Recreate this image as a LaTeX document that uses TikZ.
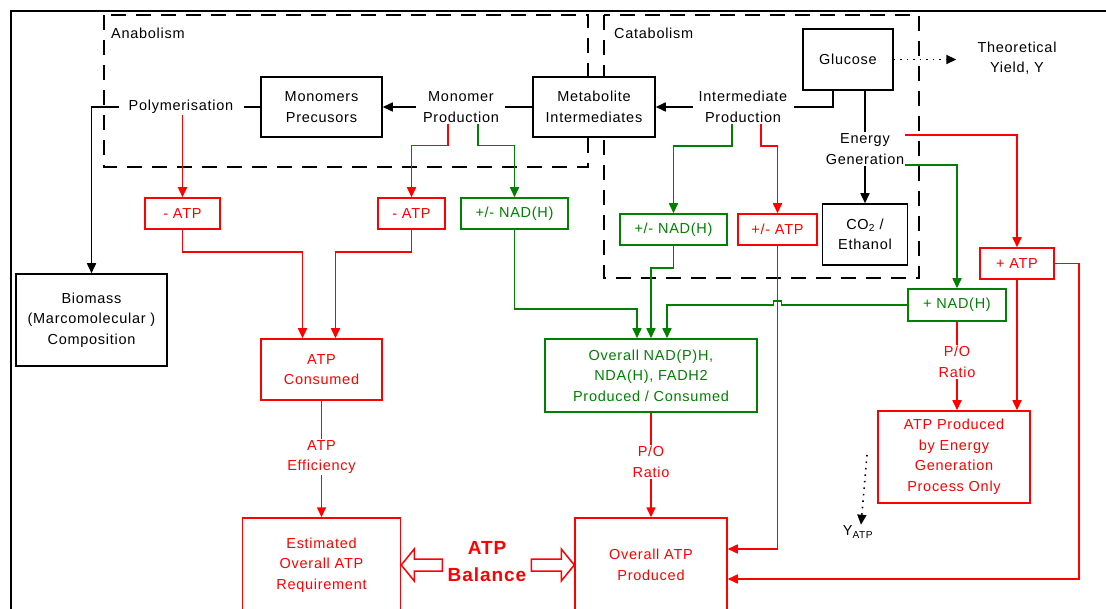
\documentclass[tikz,border=0pt]{standalone}
\usepackage{fontspec}
\setmainfont{Liberation Sans}[LetterSpace=5]
\usetikzlibrary{arrows.meta,calc}
\definecolor{cred}{RGB}{255,0,0}
\definecolor{cgreen}{RGB}{0,128,0}
\begin{document}
\begin{tikzpicture}[x=1pt,y=-1pt,
  every node/.style={font=\fontsize{14.5}{20.5}\selectfont, inner sep=1pt, align=center},
  bx/.style={draw, fill=white, line width=1.5pt, inner sep=0pt},
  blkbox/.style={bx, draw=black, text=black},
  redbox/.style={bx, draw=cred, text=cred},
  grnbox/.style={bx, draw=cgreen, text=cgreen},
  redtxt/.style={text=cred},
  ln/.style={line width=1.6pt},
  tip/.style={-{Triangle[length=10pt,width=9pt]}},
  blk/.style={ln, black},
  rd/.style={ln, cred},
  gr/.style={ln, cgreen},
  dots/.style={dash pattern=on 1.5pt off 5pt},
  region/.style={draw=black, line width=1.5pt, dash pattern=on 15pt off 10pt},
  hollow/.style={draw=cred, fill=white, line width=1.5pt, line join=miter}
]
\useasboundingbox (0,0) rectangle (1106,609);
\clip (0,0) rectangle (1106,609);
% frame
\draw[line width=2.2pt] (1106,11) -- (11,11) -- (11,612);
% regions
\draw[region] (104,15) rectangle (588,167);
\draw[region] (604,15) rectangle (919,278);
\node[anchor=west] (anab) at (110,33) {Anabolism};
\node[anchor=west] (catab) at (613,33) {Catabolism};

% black nodes
\node[blkbox, minimum width=90, minimum height=61] (glu) at (848,59.5) {Glucose};
\node (theo) at (1017,58) {Theoretical\\Yield, Y};
\node[blkbox, minimum width=122, minimum height=60] (meta) at (594,107) {Metabolite\\Intermediates};
\node[blkbox, minimum width=121, minimum height=60] (mono) at (321.5,107) {Monomers\\Precusors};
\node (poly) at (181,107) {Polymerisation};
\node (mp) at (461,107) {Monomer\\Production};
\node (ip) at (743,107) {Intermediate\\Production};
\node (eg) at (865,149) {Energy\\Generation};
\node[blkbox, minimum width=85, minimum height=61] (co2) at (865,234.5) {CO\textsubscript{2} /\\Ethanol};
\node[blkbox, minimum width=151, minimum height=92] (bio) at (91.5,320) {Biomass\\(Marcomolecular )\\Composition};

% red / green small boxes
\node[redbox, minimum width=75, minimum height=31] (atp1) at (182.5,213.5) {- ATP};
\node[redbox, minimum width=67, minimum height=31] (atp2) at (411.5,213.5) {- ATP};
\node[grnbox, minimum width=107, minimum height=31] (nad1) at (514.5,213.5) {+/- NAD(H)};
\node[grnbox, minimum width=107, minimum height=31] (nad2) at (673.5,229.5) {+/- NAD(H)};
\node[redbox, minimum width=79, minimum height=31] (pmatp) at (777.5,229.5) {+/- ATP};
\node[redbox, minimum width=74, minimum height=31] (patp) at (1017,263.5) {+ ATP};
\node[grnbox, minimum width=98, minimum height=32] (pnad) at (957,305) {+ NAD(H)};

% large boxes
\node[redbox, minimum width=121, minimum height=61] (cons) at (321.5,369.5) {ATP\\Consumed};
\node[grnbox, minimum width=212, minimum height=73] (onad) at (651,375.5) {Overall NAD(P)H,\\NDA(H), FADH2\\Produced / Consumed};
\node[redbox, minimum width=152, minimum height=92] (aeg) at (954,457) {ATP Produced\\by Energy\\Generation\\Process Only};
\node[redbox, minimum width=158, minimum height=94] (est) at (321.5,565) {Estimated\\Overall ATP\\Requirement};
\node[redbox, minimum width=152, minimum height=94] (oap) at (651,565) {Overall ATP\\Produced};

% labels
\node[redtxt] (eff) at (321.5,457) {ATP\\Efficiency};
\node[redtxt] (po1) at (651,462) {P/O\\Ratio};
\node[redtxt] (po2) at (957,362) {P/O\\Ratio};
\node[redtxt, font=\fontsize{19}{27}\selectfont\bfseries] (bal) at (487,562) {ATP\\Balance};
\node (yatp) at (858,532) {Y\textsubscript{ATP}};
\coordinate (ys) at (867,455);

% black connectors
\draw[blk, tip] ([xshift=-9pt]poly.west) -| (bio.north);
\draw[blk] ([xshift=10pt]poly.east) -- (mono.west);
\draw[blk, tip] ([xshift=-6pt]mp.west) -- (mono.east);
\draw[blk] ([xshift=5pt]mp.east) -- (meta.west);
\draw[blk, tip] ([xshift=-5pt]ip.west) -- (meta.east);
\draw[blk] ([xshift=6pt]ip.east) -| ([xshift=-15pt]glu.south);
\draw[blk] (glu.south -| eg.north) -- (eg.north);
\draw[blk, tip] (eg.south) -- (co2.north);
\draw[blk, tip, dots, shorten >=20pt] (glu.east) -- (glu.east -| theo.west);
\draw[blk, tip, dots] (ys) -- ([xshift=3pt]yatp.north);

% red connectors
\draw[rd, tip] (poly.south -| atp1.north) -- (atp1.north);
\draw[rd, tip] ([xshift=-13pt]mp.south) -- ++(0,22) -| (atp2.north);
\draw[rd, tip] (atp1.south) -- ++(0,22) -| ([xshift=-19pt]cons.north);
\draw[rd, tip] (atp2.south) -- ++(0,22) -| ([xshift=14pt]cons.north);
\draw[rd] (cons.south) -- (eff.north);
\draw[rd, tip] (eff.south) -- (est.north);
\draw[rd, tip] ([xshift=18pt]ip.south) -- ++(0,22) -| (pmatp.north);
\draw[rd, tip] (pmatp.south) |- ([yshift=16pt]oap.east);
\draw[rd, tip] ([yshift=14pt]eg.east) -| (patp.north);
\draw[rd] (pnad.south) -- (po2.north);
\draw[rd, tip] (po2.south) -- (po2.south |- aeg.north);
\draw[rd, tip] (patp.south) -- (patp.south |- aeg.north);
\draw[rd, tip] (patp.east) -- ++(24,0) |- ([yshift=-14pt]oap.east);
\draw[rd] (onad.south) -- (po1.north);
\draw[rd, tip] (po1.south) -- (oap.north);

% green connectors
\draw[gr, tip] ([yshift=-16pt]eg.east) -| (pnad.north);
\draw[gr, tip] ([xshift=17pt]mp.south) -- ++(0,22) -| (nad1.north);
\draw[gr, tip] (nad1.south) -- ++(0,79) -| ([xshift=-14pt]onad.north);
\draw[gr, tip] ([xshift=-11pt]ip.south) -- ++(0,22) -| (nad2.north);
\draw[gr, tip] (nad2.south) -- ++(0,22) -| (onad.north);
\draw[gr, tip] (pnad.west) -- ([xshift=4pt]pnad.west -| pmatp.south) -- ++(0,-4) -- ++(-8,0) -- ++(0,4) -| ([xshift=16pt]onad.north);

% ATP balance hollow arrows
\draw[hollow] (est.east) -- ++(13,-16) -- ++(0,10) -- ++(28,0) -- ++(0,12) -- ++(-28,0) -- ++(0,10) -- cycle;
\draw[hollow] (oap.west) -- ++(-13,-16) -- ++(0,10) -- ++(-30,0) -- ++(0,12) -- ++(30,0) -- ++(0,10) -- cycle;
\end{tikzpicture}
\end{document}
